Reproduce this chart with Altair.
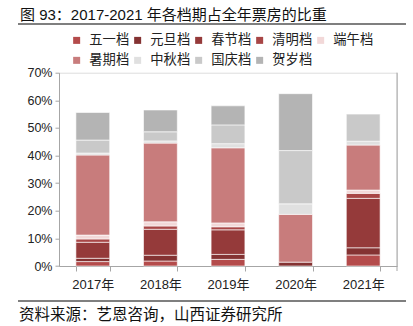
import altair as alt
import pandas as pd

years = ["2017年", "2018年", "2019年", "2020年", "2021年"]
series = ["五一档", "元旦档", "春节档", "清明档", "端午档", "暑期档", "中秋档", "国庆档", "贺岁档"]
colors = ["#b44b4b", "#843232", "#953a3a", "#a84646", "#f2d8d8", "#c87c7c", "#e0e0e0", "#c9c9c9", "#b4b4b4"]

wuyi = [1.6, 1.8, 2.4, 0.0, 4.0]
yuandan = [1.2, 2.1, 1.8, 1.4, 2.6]
chunjie = [5.8, 9.4, 8.9, 0.0, 17.9]
qingming = [1.2, 1.2, 1.1, 0.0, 1.8]
duanwu = [1.4, 1.5, 1.4, 0.0, 1.2]
shuqi = [29.0, 28.5, 27.2, 17.3, 16.3]
zhongqiu = [0.7, 0.8, 1.5, 3.8, 1.4]
guoqing = [4.7, 3.3, 6.8, 19.3, 9.8]
hesui = [10.0, 7.9, 6.9, 20.6, 0.0]

title_text = "图 93：2017-2021 年各档期占全年票房的比重"
source_text = "资料来源：艺恩咨询，山西证券研究所"
y_ticks = [0, 0.1, 0.2, 0.3, 0.4, 0.5, 0.6, 0.7]

all_vals = [wuyi, yuandan, chunjie, qingming, duanwu, shuqi, zhongqiu, guoqing, hesui]
rows = []
for si, (name, vals) in enumerate(zip(series, all_vals)):
    for yi, yr in enumerate(years):
        if vals[yi] > 0:
            rows.append({"year": yr, "series": name, "idx": si, "value": vals[yi] / 100})
df = pd.DataFrame(rows)

FONT = "Liberation Sans, Noto Sans CJK SC"
W, H = 338, 193.3

bars = alt.Chart(df).mark_bar(stroke="white", strokeWidth=0.6).encode(
    x=alt.X("year:N", sort=years, title=None,
            scale=alt.Scale(paddingInner=0.5, paddingOuter=0.25),
            axis=alt.Axis(labelAngle=0, labelFontSize=13, labelFont=FONT, labelColor="#222",
                          domainColor="#a6a6a6", tickColor="#a6a6a6", tickBand="extent",
                          tickSize=5, labelPadding=7)),
    y=alt.Y("value:Q", stack="zero", title=None,
            scale=alt.Scale(domain=[0, 0.7], nice=False),
            axis=alt.Axis(values=y_ticks, format=".0%", labelFontSize=12.5, labelFont=FONT,
                          labelColor="#222", domainColor="#a6a6a6", tickColor="#a6a6a6",
                          tickSize=4, grid=False, labelPadding=3)),
    color=alt.Color("series:N", scale=alt.Scale(domain=series, range=colors),
                    legend=alt.Legend(title=None, orient="none", legendX=11, legendY=-39,
                                      direction="horizontal", columns=5,
                                      symbolType="square", symbolSize=49,
                                      symbolStrokeWidth=0, labelFontSize=13.3, labelFont=FONT,
                                      labelColor="#222", labelOffset=6, columnPadding=1,
                                      rowPadding=6, padding=0)),
    order=alt.Order("idx:Q", sort="ascending"),
)

base = alt.Chart(pd.DataFrame({"a": [0]}))
right_line = base.mark_rule(color="#a6a6a6", strokeWidth=1).encode(
    x=alt.value(W), y=alt.value(0), y2=alt.value(H + 5))
title_line = base.mark_rule(color="#555555", strokeWidth=1.5).encode(
    x=alt.value(-41), x2=alt.value(347), y=alt.value(24 - 72.7))
source_line = base.mark_rule(color="#555555", strokeWidth=1.5).encode(
    x=alt.value(-41), x2=alt.value(347), y=alt.value(301 - 72.7))
title_mark = base.mark_text(align="left", baseline="middle", fontSize=15, font=FONT, color="#111").encode(
    x=alt.value(-39), y=alt.value(15 - 72.7), text=alt.value(title_text))
source_mark = base.mark_text(align="left", baseline="middle", fontSize=15.5, font=FONT, color="#111").encode(
    x=alt.value(-40), y=alt.value(315 - 72.7), text=alt.value(source_text))

chart = alt.layer(bars, right_line, title_line, source_line, title_mark, source_mark).properties(
    width=W, height=H,
    autosize=alt.AutoSizeParams(type="none"),
    padding={"left": 59, "top": 72.7, "right": 16, "bottom": 60},
).configure_view(stroke=None).configure(background="white")

chart.save("out.html", embed_options={"renderer": "svg", "actions": False})
